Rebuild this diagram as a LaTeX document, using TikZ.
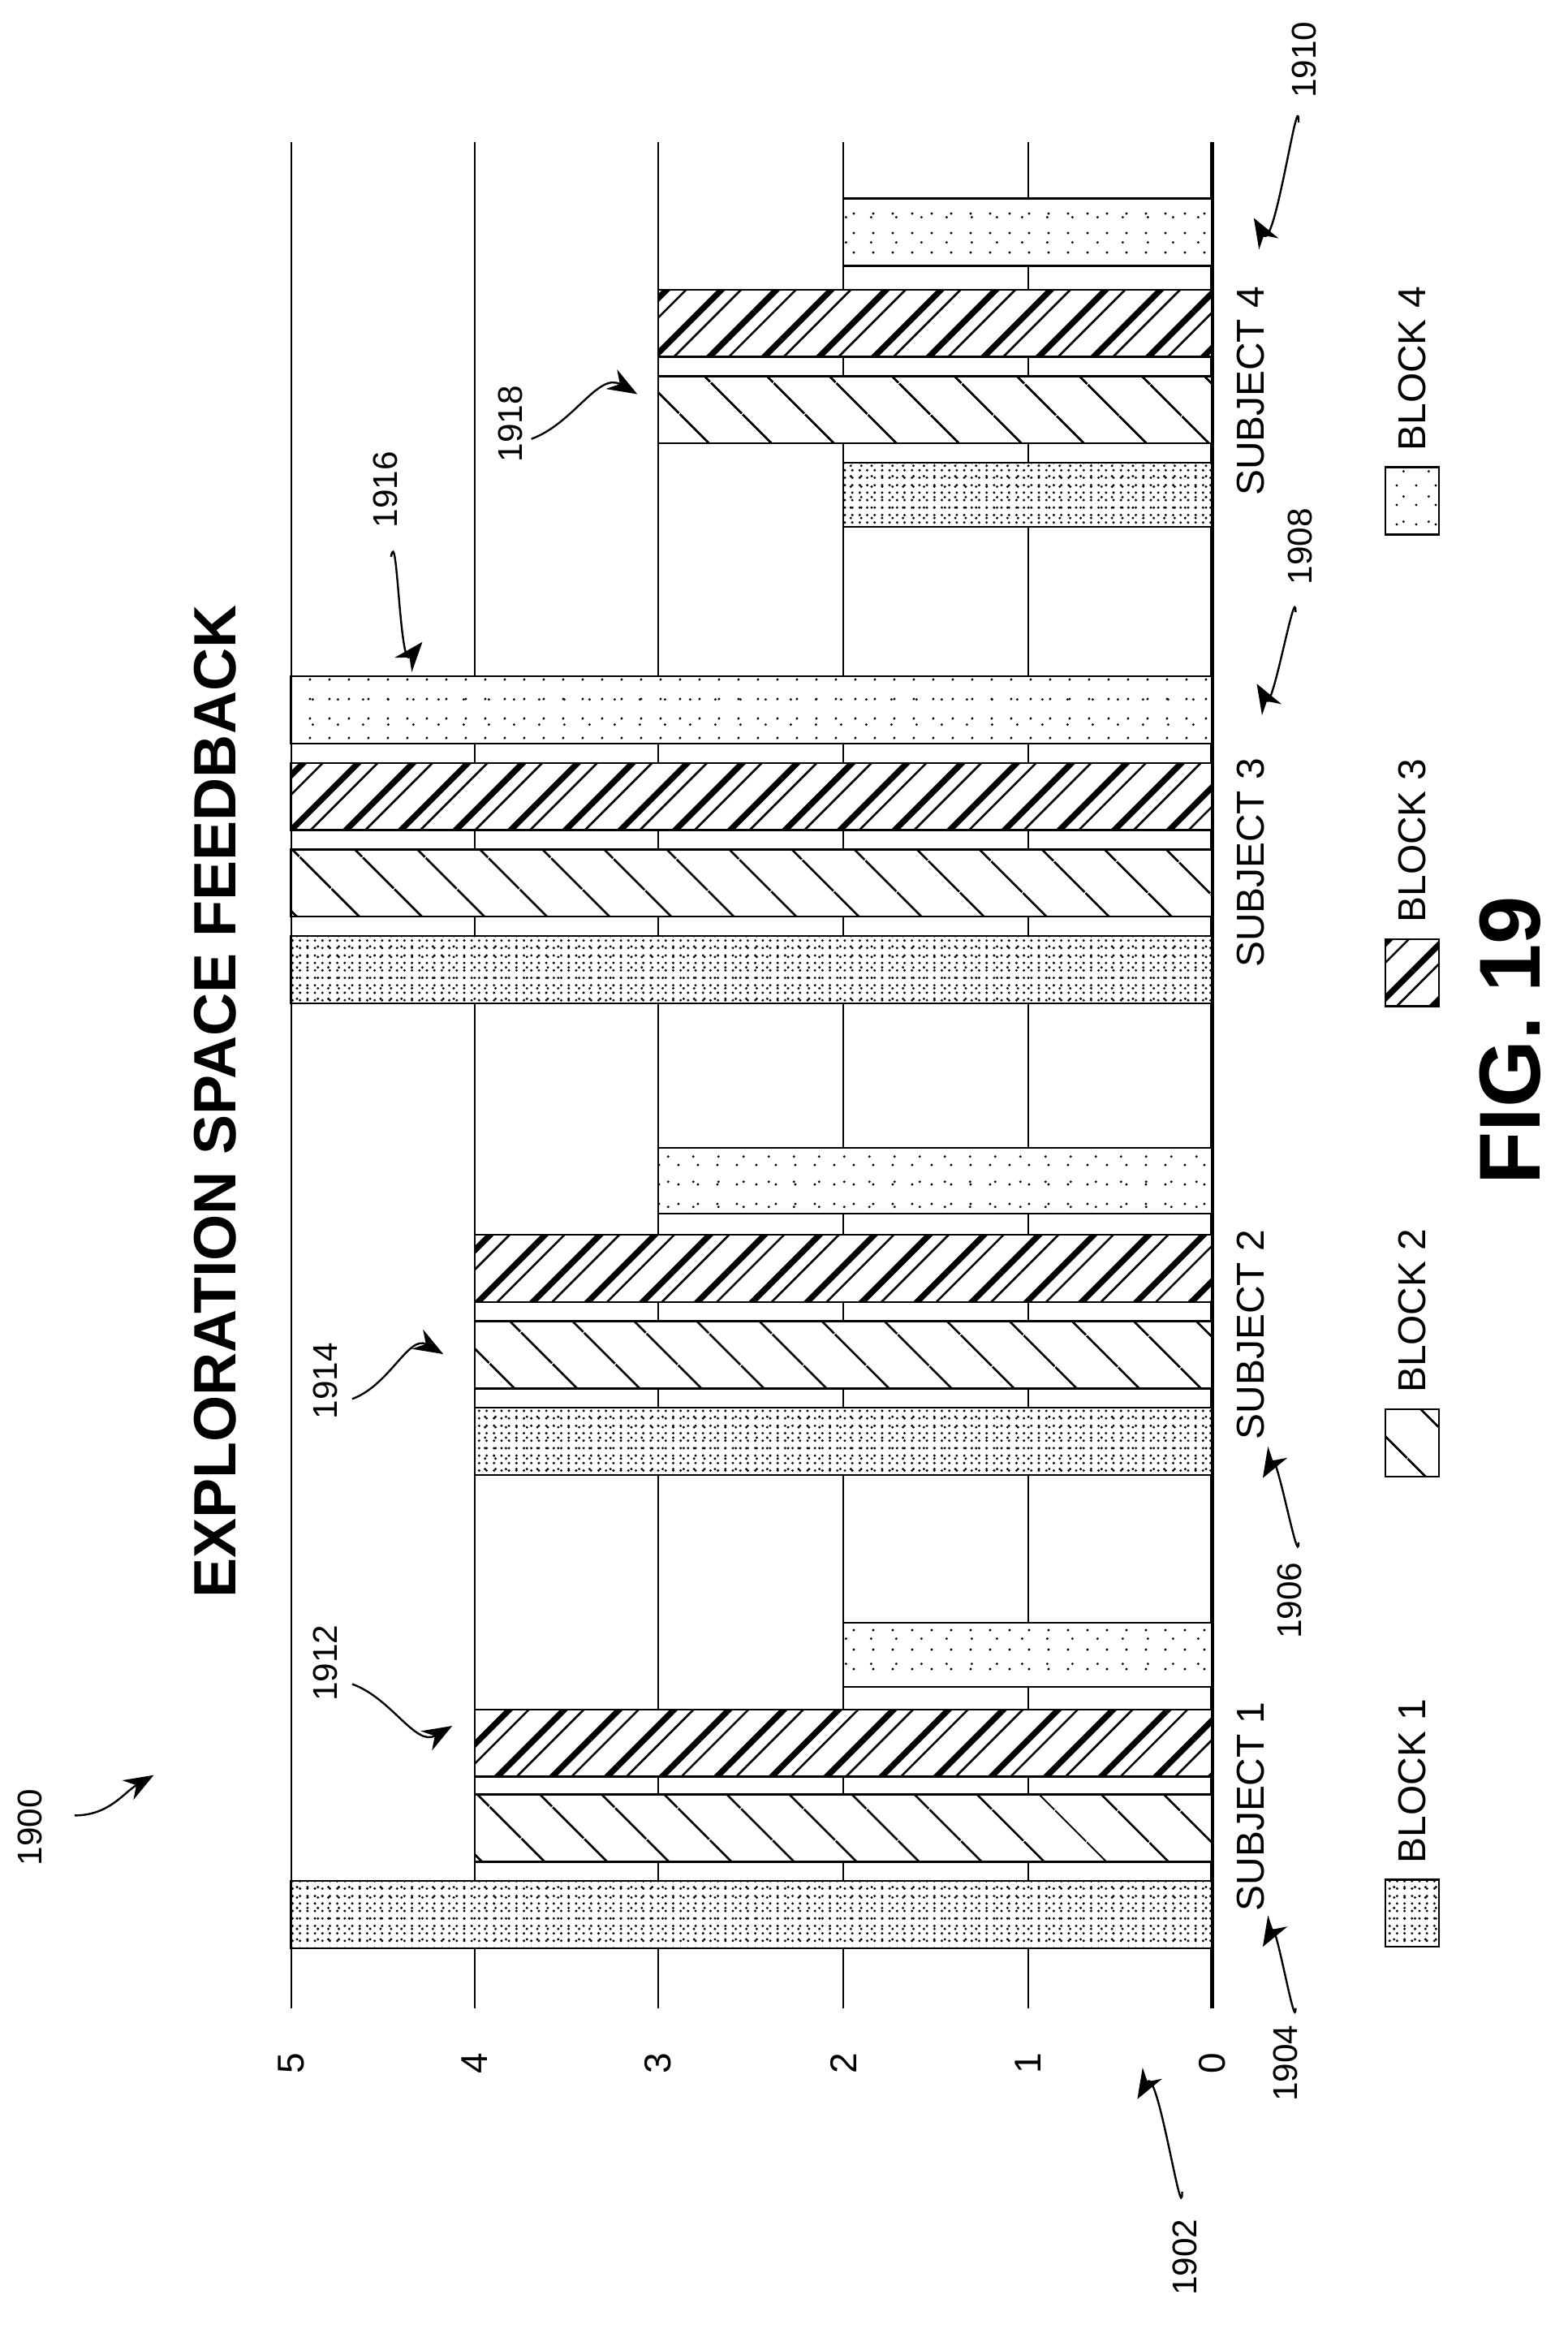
\documentclass[tikz,border=0pt]{standalone}
\usepackage{fontspec}
\setmainfont{Liberation Sans}
\usetikzlibrary{patterns.meta,arrows.meta}
\tikzset{
  grid/.style={line width=1.2pt},
  barbox/.style={draw,line width=1.3pt,fill=white},
  pA/.style={pattern={Dots[distance=5pt,radius=0.9pt,xshift=1pt]}},
  pAb/.style={pattern={Dots[distance=7pt,radius=0.9pt,xshift=3pt,yshift=2pt]}},
  pB/.style={pattern={Lines[angle=-45,distance=30pt,line width=1.6pt]}},
  pC/.style={pattern={Lines[angle=45,distance=26pt,line width=4pt]}},
  pCb/.style={pattern={Lines[angle=45,distance=26pt,line width=1.4pt,xshift=13pt]}},
  pD/.style={pattern={Dots[distance=13pt,radius=0.9pt]}},
  pDb/.style={pattern={Dots[distance=17pt,radius=0.9pt,xshift=6pt,yshift=4pt]}},
  num/.style={rotate=90,font=\fontsize{25}{25}\selectfont},
  subj/.style={rotate=90,font=\fontsize{26}{26}\selectfont},
  reflab/.style={rotate=90,font=\fontsize{23}{23}\selectfont},
  refarrow/.style={line width=1.3pt,-{Stealth[length=20pt,width=15pt]}},
}
\newcommand\fillpat[5]{%
  \if#1A \fill[pA] (#2,#3) rectangle (#4,#5); \fill[pAb] (#2,#3) rectangle (#4,#5);\fi
  \if#1B \fill[pB] (#2,#3) rectangle (#4,#5);\fi
  \if#1C \fill[pC] (#2,#3) rectangle (#4,#5); \fill[pCb] (#2,#3) rectangle (#4,#5);\fi
  \if#1D \fill[pD] (#2,#3) rectangle (#4,#5); \fill[pDb] (#2,#3) rectangle (#4,#5);\fi
}
\begin{document}
\begin{tikzpicture}[x=1pt,y=-1pt]
\useasboundingbox (0,0) rectangle (1050,1560);
% gridlines
\foreach \gx in {195,318,441,565,689}{\draw[grid] (\gx,95) -- (\gx,1345);}
\draw[line width=2.4pt] (812,95) -- (812,1345);
% axis numbers
\foreach \gx/\v in {195/5,318/4,441/3,565/2,689/1,812/0}{\node[num] (n\v) at (\gx,1382) {\v};}
% bars
\foreach \ya/\yb/\vx/\st in {
 1260/1305/195/A,1202/1247/318/B,1145/1190/318/C,1087/1130/565/D,
 943/988/318/A,885/930/318/B,827/872/318/C,769/813/441/D,
 627/672/195/A,569/614/195/B,511/556/195/C,453/498/195/D,
 310/353/565/A,252/297/441/B,194/239/441/C,133/178/565/D}{
  \draw[barbox] (\vx,\ya) rectangle (812,\yb);
  \edef\tmp{\noexpand\fillpat{\st}{\vx}{\ya}{812}{\yb}}\tmp
  \draw[line width=1.3pt] (\vx,\ya) rectangle (812,\yb);
}
% subject labels
\node[subj] (s1) at (838,1210) {SUBJECT 1};
\node[subj] (s2) at (838,894) {SUBJECT 2};
\node[subj] (s3) at (838,578) {SUBJECT 3};
\node[subj] (s4) at (838,262) {SUBJECT 4};
% title
\node[rotate=90,font=\fontsize{40}{40}\selectfont\bfseries] (title) at (144,738) {EXPLORATION SPACE FEEDBACK};
% legend
\foreach \by/\ty/\st/\nm in {1259/1193/A/1,944/878/B/2,629/563/C/3,313/247/D/4}{
  \pgfmathtruncatemacro\bz{\by+45}
  \draw[barbox] (928,\by) rectangle (964,\bz);
  \edef\tmp{\noexpand\fillpat{\st}{928}{\by}{964}{\bz}}\tmp
  \draw[line width=1.3pt] (928,\by) rectangle (964,\bz);
  \node[subj] (leg\nm) at (946,\ty) {BLOCK \nm};
}
% figure label
\node[rotate=90,font=\fontsize{58}{58}\selectfont\bfseries] (fig) at (1012,697) {FIG. 19};
% reference labels
\node[reflab] (r1900) at (20,1224) {1900};
\node[reflab] (r1902) at (794,1512) {1902};
\node[reflab] (r1904) at (861,1382) {1904};
\node[reflab] (r1906) at (864,1072) {1906};
\node[reflab] (r1908) at (871,366) {1908};
\node[reflab] (r1910) at (874,40) {1910};
\node[reflab] (r1912) at (218,1114) {1912};
\node[reflab] (r1914) at (218,925) {1914};
\node[reflab] (r1916) at (258,328) {1916};
\node[reflab] (r1918) at (342,284) {1918};
\coordinate (a1900) at (50,1216); \coordinate (t1900) at (103,1189);
\coordinate (a1902) at (792,1468); \coordinate (t1902) at (762,1406);
\coordinate (a1904) at (868,1345); \coordinate (t1904) at (846,1304);
\coordinate (a1906) at (870,1033); \coordinate (t1906) at (846,990);
\coordinate (a1908) at (868,410); \coordinate (t1908) at (842,458);
\coordinate (a1910) at (870,82); \coordinate (t1910) at (840,146);
\coordinate (a1912) at (236,1128); \coordinate (t1912) at (303,1156);
\coordinate (a1914) at (236,937); \coordinate (t1914) at (297,907);
\coordinate (a1916) at (262,373); \coordinate (t1916) at (283,430);
\coordinate (a1918) at (356,294); \coordinate (t1918) at (427,264);
\draw[refarrow] (a1900) to[out=0,in=210] (t1900);
\draw[refarrow] (a1902) to[out=-90,in=60] (t1902);
\draw[refarrow] (a1904) to[out=-90,in=60] (t1904);
\draw[refarrow] (a1906) to[out=-90,in=60] (t1906);
\draw[refarrow] (a1908) to[out=90,in=-60] (t1908);
\draw[refarrow] (a1910) to[out=90,in=-60] (t1910);
\draw[refarrow] (a1912) to[out=-20,in=210] (t1912);
\draw[refarrow] (a1914) to[out=20,in=150] (t1914);
\draw[refarrow] (a1916) to[out=80,in=-130] (t1916);
\draw[refarrow] (a1918) to[out=20,in=150] (t1918);
\end{tikzpicture}
\end{document}
